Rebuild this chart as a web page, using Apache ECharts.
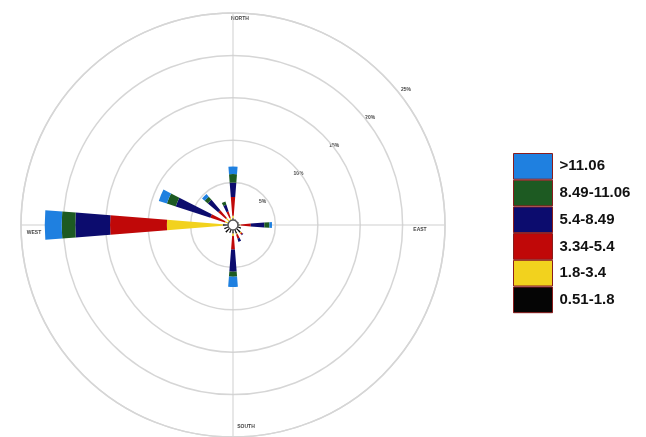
<!DOCTYPE html>
<html>
<head>
<meta charset="utf-8">
<script src="https://cdn.jsdelivr.net/npm/echarts@6/dist/echarts.min.js"></script>
<style>
  html, body { margin: 0; padding: 0; background: #ffffff; }
  #chart { width: 646px; height: 437px; }
</style>
</head>
<body>
<div id="chart"></div>
<script>
// Wind directions (clockwise from north)
const directions = ['N', 'NNE', 'NE', 'ENE', 'E', 'ESE', 'SE', 'SSE',
                    'S', 'SSW', 'SW', 'WSW', 'W', 'WNW', 'NW', 'NNW'];

// Speed classes, innermost first
const speedClasses = ['0.51-1.8', '1.8-3.4', '3.34-5.4', '5.4-8.49', '8.49-11.06', '>11.06'];

// Frequency (%) per direction for each speed class
const calm_051_18   = [0.8, 0.7, 0.6, 0.7, 0.8, 1.0, 1.2, 1.1, 1.0, 1.0, 1.2, 1.1, 1.2, 0.6, 0.6, 0.6];
const light_18_34   = [0.3, 0.0, 0.0, 0.0, 0.1, 0.0, 0.1, 0.1, 0.3, 0.0, 0.0, 0.0, 6.6, 0.4, 0.5, 0.3];
const gentle_334_54 = [2.2, 0.0, 0.0, 0.0, 1.2, 0.0, 0.2, 0.5, 1.6, 0.0, 0.0, 0.0, 6.7, 1.8, 1.2, 0.8];
const mod_54_849    = [1.7, 0.0, 0.0, 0.0, 1.6, 0.0, 0.1, 0.4, 2.6, 0.0, 0.0, 0.0, 4.1, 4.3, 1.6, 0.8];
const fresh_849_1106= [1.0, 0.0, 0.0, 0.0, 0.6, 0.0, 0.0, 0.0, 0.6, 0.0, 0.0, 0.0, 1.6, 1.1, 0.5, 0.4];
const strong_1106   = [0.9, 0.0, 0.0, 0.0, 0.3, 0.0, 0.0, 0.0, 1.2, 0.0, 0.0, 0.0, 2.0, 1.0, 0.4, 0.0];

const classValues = [calm_051_18, light_18_34, gentle_334_54, mod_54_849, fresh_849_1106, strong_1106];
const classColors = ['#050505', '#f2d21e', '#c00808', '#0c0c6e', '#1d5a22', '#1f80e0'];

// Ring labels
const ringTicks = [5, 10, 15, 20, 25];
const ringLabels = ['5%', '10%', '15%', '20%', '25%'];

const cx = 233, cy = 225, R = 212, rMax = 25;
const gridColor = '#d6d6d6';

const chart = echarts.init(document.getElementById('chart'), null, { renderer: 'canvas' });

const series = speedClasses.map((name, i) => ({
  name: name,
  type: 'bar',
  coordinateSystem: 'polar',
  polarIndex: 1,
  stack: 'rose',
  barWidth: '40%',
  data: classValues[i],
  itemStyle: { color: classColors[i] },
  silent: true
}));

// percentage labels along a diagonal, just outside each ring
const ringText = ringTicks.map((v, i) => {
  const r = v * 9.1 - 8;
  const a = 38 * Math.PI / 180;
  return {
    type: 'text',
    x: cx + r * Math.cos(a),
    y: cy - r * Math.sin(a),
    style: { text: ringLabels[i], fill: '#444', font: 'bold 5px "Liberation Sans", Arial', align: 'center', verticalAlign: 'middle' }
  };
});

const compassText = [
  { t: 'NORTH', x: 240, y: 19 },
  { t: 'EAST', x: 420, y: 230 },
  { t: 'SOUTH', x: 246, y: 427 },
  { t: 'WEST', x: 34, y: 233 }
].map(c => ({
  type: 'text', x: c.x, y: c.y,
  style: { text: c.t, fill: '#444', font: 'bold 5px "Liberation Sans", Arial', align: 'center', verticalAlign: 'middle' }
}));

const option = {
  backgroundColor: '#ffffff',
  animation: false,
  polar: [
    { center: [cx, cy], radius: R },
    { center: [cx, cy], radius: R }
  ],
  angleAxis: [
    {
      polarIndex: 0, type: 'value', min: 0, max: 360, interval: 90, startAngle: 90,
      axisLine: { show: true, lineStyle: { color: gridColor, width: 1.5 } },
      axisTick: { show: false }, axisLabel: { show: false },
      splitLine: { show: true, lineStyle: { color: '#cfcfcf', width: 1 } }
    },
    {
      polarIndex: 1, type: 'category', data: directions, startAngle: 90 + 11.25, clockwise: true,
      axisLine: { show: false }, axisTick: { show: false }, axisLabel: { show: false },
      splitLine: { show: false }
    }
  ],
  radiusAxis: [
    {
      polarIndex: 0, type: 'value', min: 0, max: rMax, interval: 5,
      axisLine: { show: false }, axisTick: { show: false }, axisLabel: { show: false },
      splitLine: { show: true, lineStyle: { color: gridColor, width: 1.5 } }
    },
    {
      polarIndex: 1, type: 'value', min: 0, max: rMax,
      axisLine: { show: false }, axisTick: { show: false }, axisLabel: { show: false },
      splitLine: { show: false }
    }
  ],
  legend: {
    data: speedClasses.slice().reverse(),
    orient: 'vertical',
    left: 508, top: 148,
    itemWidth: 39, itemHeight: 25.7, itemGap: 0,
    icon: 'rect',
    selectedMode: false,
    itemStyle: { borderColor: '#8a1c1c', borderWidth: 1 },
    textStyle: { fontSize: 15, fontWeight: 'bold', color: '#111', fontFamily: '"Liberation Sans", Arial', padding: [0, 0, 0, 2] }
  },
  series: series,
  graphic: [
    ...ringText,
    ...compassText,
    { type: 'circle', shape: { cx: cx, cy: cy, r: 5 }, style: { fill: '#ffffff', stroke: '#555', lineWidth: 1.5 }, z: 100 }
  ]
};

chart.setOption(option);
</script>
</body>
</html>
